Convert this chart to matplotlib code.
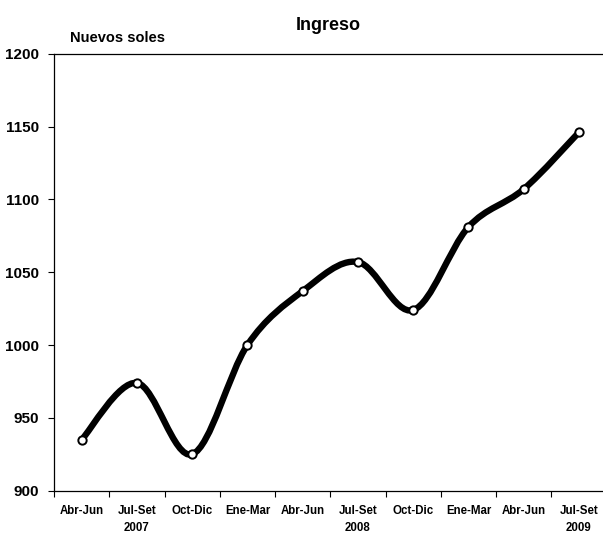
import matplotlib
matplotlib.use("Agg")
import matplotlib.pyplot as plt
import matplotlib.ticker as mticker
from matplotlib.path import Path
from matplotlib.patches import PathPatch

plt.rcParams["font.family"] = ["Liberation Sans", "DejaVu Sans"]

# ---------------------------------------------------------------------------
# Data
# ---------------------------------------------------------------------------
periods = ["Abr-Jun", "Jul-Set", "Oct-Dic", "Ene-Mar", "Abr-Jun",
           "Jul-Set", "Oct-Dic", "Ene-Mar", "Abr-Jun", "Jul-Set"]
years = ["", "2007", "", "", "", "2008", "", "", "", "2009"]
ingreso = [935, 974, 925, 1000, 1037, 1057, 1024, 1081, 1107, 1146]

y_ticks = [900, 950, 1000, 1050, 1100, 1150, 1200]


def _smooth_path(xs, ys, t=1 / 6):
    """Bezier path through the points (Excel-style smoothed line)."""
    n = len(xs)
    verts = [(xs[0], ys[0])]
    codes = [Path.MOVETO]
    for i in range(n - 1):
        i0 = max(i - 1, 0)
        i3 = min(i + 2, n - 1)
        c1 = (xs[i] + (xs[i + 1] - xs[i0]) * t, ys[i] + (ys[i + 1] - ys[i0]) * t)
        c2 = (xs[i + 1] - (xs[i3] - xs[i]) * t, ys[i + 1] - (ys[i3] - ys[i]) * t)
        verts += [c1, c2, (xs[i + 1], ys[i + 1])]
        codes += [Path.CURVE4] * 3
    return Path(verts, codes)


fig = plt.figure(figsize=(6.03, 5.33), dpi=100)
ax = fig.add_axes([0.0896, 0.0794, 0.9162, 0.8198])

x = list(range(len(ingreso)))
ax.add_patch(PathPatch(_smooth_path(x, ingreso), facecolor="none", edgecolor="black",
                       linewidth=4.6, capstyle="round", joinstyle="round", zorder=2))
ax.plot(x, ingreso, linestyle="none", marker="o", markersize=6,
        markerfacecolor="white", markeredgecolor="black", markeredgewidth=1.4, zorder=3)

ax.set_xlim(-0.5, len(ingreso) - 0.5)
ax.set_ylim(900, 1200)
ax.set_yticks(y_ticks)
ax.set_yticklabels([str(v) for v in y_ticks], fontsize=11, fontweight="bold")

ax.set_xticks(x)
ax.set_xticklabels([f"{p}\n{y}" for p, y in zip(periods, years)],
                   fontsize=8.3, fontweight="bold", linespacing=1.65)
ax.xaxis.set_minor_locator(mticker.FixedLocator([i + 0.5 for i in range(-1, len(x))]))
ax.tick_params(axis="x", which="major", length=0, pad=10)
ax.tick_params(axis="x", which="minor", length=4, width=0.8, direction="out")
ax.tick_params(axis="y", length=4, width=0.8, direction="out", pad=7)

for s in ax.spines.values():
    s.set_linewidth(0.9)
    s.set_color("black")

fig.text(0.545, 0.953, "Ingreso", ha="center", va="center", fontsize=13, fontweight="bold")
fig.text(0.116, 0.929, "Nuevos soles", ha="left", va="center", fontsize=10.5, fontweight="bold")

fig.savefig("out.png", dpi=100)
plt.close(fig)
